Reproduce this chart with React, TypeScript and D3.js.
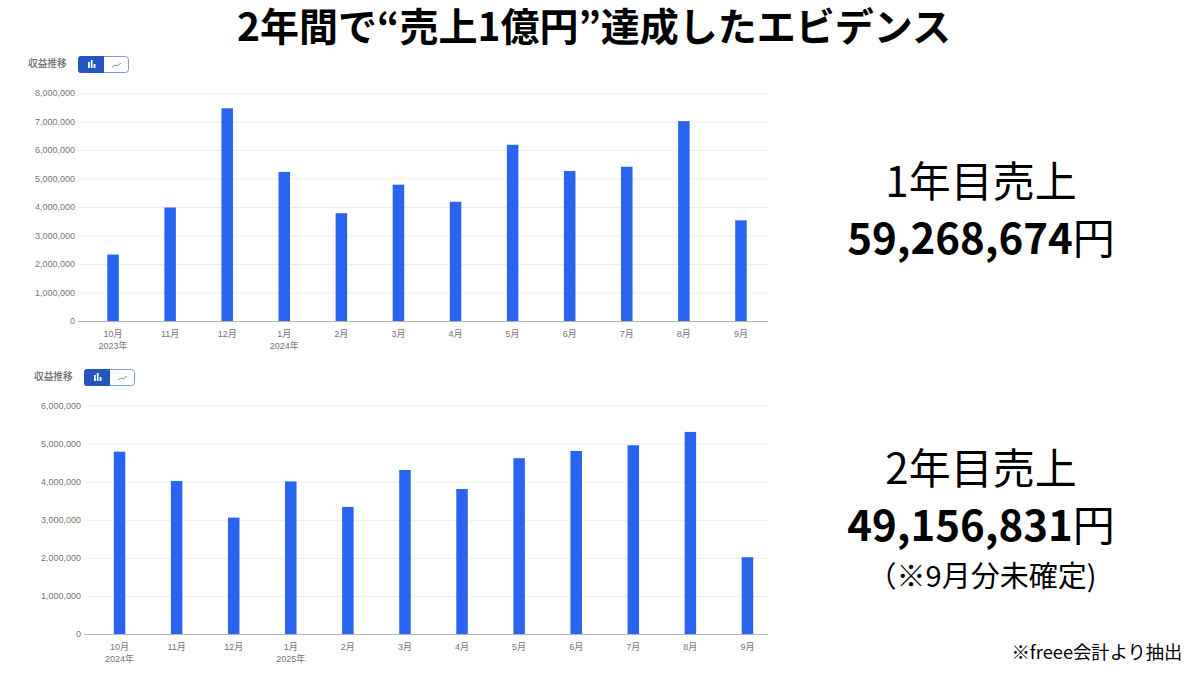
import React from "react";
import * as d3 from "d3";

const months = ["10月","11月","12月","1月","2月","3月","4月","5月","6月","7月","8月","9月"];
const valuesYear1 = [2350000,4000000,7480000,5250000,3800000,4800000,4200000,6200000,5280000,5430000,7030000,3550000];
const valuesYear2 = [4800000,4030000,3070000,4020000,3350000,4320000,3820000,4630000,4820000,4970000,5320000,2030000];
const ticksYear1 = [0,1000000,2000000,3000000,4000000,5000000,6000000,7000000,8000000];
const ticksYear2 = [0,1000000,2000000,3000000,4000000,5000000,6000000];
const yearsLabels1 = ["2023年","2024年"];
const yearsLabels2 = ["2024年","2025年"];

const CJK = "'Noto Sans CJK JP','Noto Sans',sans-serif";
const AX = "'Liberation Sans','Noto Sans CJK JP',sans-serif";

function Panel({ values, ticks, years, x0, x1, plotL, titleX, titleY, yTop, yBase, btnX, btnY }: any) {
  const x = d3.scaleBand<string>().domain(months).range([x0, x1]);
  const y = d3.scaleLinear().domain([0, d3.max(ticks as number[])!]).range([yBase, yTop]);
  const fmt = d3.format(",");
  const bw = 11.5;
  return (
    <g>
      <text x={titleX} y={titleY} fontFamily={CJK} fontSize={9.7} fontWeight={500} fill="#6b6b6b">収益推移</text>
      <rect x={btnX + 0.5} y={btnY + 0.5} width={50} height={16} rx={3} fill="#fff" stroke="#7f9bd8" />
      <path d={`M${btnX + 26} ${btnY}H${btnX + 3}a3 3 0 0 0 -3 3V${btnY + 14}a3 3 0 0 0 3 3H${btnX + 26}Z`} fill="#2456c2" />
      <g fill="#fff">
        <rect x={btnX + 10} y={btnY + 6} width={1.8} height={6} />
        <rect x={btnX + 12.8} y={btnY + 4} width={1.8} height={8} />
        <rect x={btnX + 15.6} y={btnY + 8} width={1.8} height={4} />
      </g>
      <path d={`M${btnX + 34} ${btnY + 11}l3 -2 2 1 4 -3`} fill="none" stroke="#6f8fd6" strokeWidth={1} />
      {ticks.map((t: number) => (
        <g key={t}>
          {t > 0 && <line x1={plotL} x2={768} y1={y(t)} y2={y(t)} stroke="#ecedf0" strokeWidth={1} />}
          <text x={plotL - 3} y={y(t) + 2.5} textAnchor="end" fontFamily={AX} fontSize={9} fill="#757575">{fmt(t)}</text>
        </g>
      ))}
      {values.map((v: number, i: number) => (
        <rect key={i} x={x(months[i])! + x.bandwidth() / 2 - bw / 2} y={y(v)} width={bw} height={yBase - y(v)} fill="#2864ee" />
      ))}
      <line x1={plotL} x2={768} y1={yBase} y2={yBase} stroke="#b4b4b4" strokeWidth={1} />
      {months.map((m) => (
        <text key={m} x={x(m)! + x.bandwidth() / 2} y={yBase + 15} textAnchor="middle" fontFamily={AX} fontSize={9} fill="#757575">{m}</text>
      ))}
      <text x={x(months[0])! + x.bandwidth() / 2} y={yBase + 27} textAnchor="middle" fontFamily={AX} fontSize={9} fill="#757575">{years[0]}</text>
      <text x={x(months[3])! + x.bandwidth() / 2} y={yBase + 27} textAnchor="middle" fontFamily={AX} fontSize={9} fill="#757575">{years[1]}</text>
    </g>
  );
}

export default function App() {
  return (
    <svg width={1200} height={675} viewBox="0 0 1200 675" style={{ position: "fixed", left: 0, top: 0, background: "#fff" }}>
      <rect width={1200} height={675} fill="#fff" />
      <text x={594} y={41} textAnchor="middle" fontFamily={CJK} fontSize={39} fontWeight={700} fill="#000">2年間で“売上1億円”達成したエビデンス</text>
      <Panel values={valuesYear1} ticks={ticksYear1} years={yearsLabels1} x0={84.5} x1={769.5} plotL={78} titleX={28} titleY={66.5} yTop={93.5} yBase={321.5} btnX={78} btnY={56} />
      <Panel values={valuesYear2} ticks={ticksYear2} years={yearsLabels2} x0={91} x1={776} plotL={84} titleX={34} titleY={380} yTop={406} yBase={634.5} btnX={84} btnY={369} />
      <g fill="#000" textAnchor="middle" fontFamily={CJK}>
        <text x={981} y={197} fontSize={42}>1年目売上</text>
        <text x={981} y={254} fontSize={42}><tspan fontWeight={700}>59,268,674</tspan>円</text>
        <text x={981} y={484} fontSize={42}>2年目売上</text>
        <text x={981} y={541} fontSize={42}><tspan fontWeight={700}>49,156,831</tspan>円</text>
        <text x={982} y={587} fontSize={29}>（※9月分未確定)</text>
        <text x={1097} y={659} fontSize={18.3}>※freee会計より抽出</text>
      </g>
    </svg>
  );
}
